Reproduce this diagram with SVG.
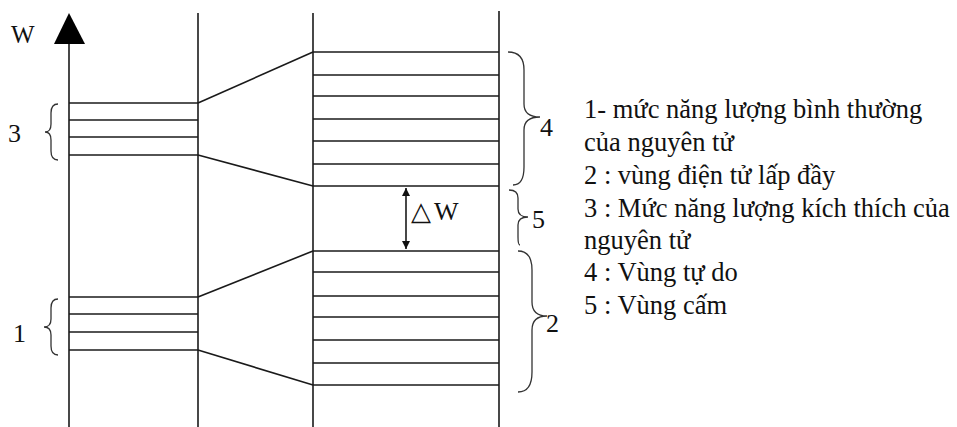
<svg xmlns="http://www.w3.org/2000/svg" width="957" height="427" viewBox="0 0 957 427">
<style>
.ln{stroke:#1a1a1a;stroke-width:1.6;fill:none}
.br{stroke:#333;stroke-width:1.3;fill:none}
.t{font-family:"Liberation Serif","Times New Roman",serif;font-size:26px;fill:#111}
.lg{font-family:"Liberation Serif","Times New Roman",serif;font-size:26.5px;fill:#111}
</style>
<defs>
<marker id="ah" viewBox="0 0 10 10" refX="10" refY="5" markerWidth="8" markerHeight="8" markerUnits="userSpaceOnUse" orient="auto-start-reverse">
<path d="M0,0 L10,5 L0,10 Z" fill="#111"/>
</marker>
</defs>
<rect width="957" height="427" fill="#fff"/>
<g id="axis">
<line class="ln" x1="69" y1="40" x2="69" y2="427"/>
<polygon points="69,13 54,44 85,44" fill="#000"/>
<text class="t" x="11" y="43" style="font-size:25px">W</text>
</g>
<g id="atom-column">
<line class="ln" x1="198" y1="13" x2="198" y2="427"/>
</g>
<g id="level3">
<line class="ln" x1="69" y1="103" x2="198" y2="103"/>
<line class="ln" x1="69" y1="120" x2="198" y2="120"/>
<line class="ln" x1="69" y1="137" x2="198" y2="137"/>
<line class="ln" x1="69" y1="155" x2="198" y2="155"/>
<path class="br" d="M58,104 Q51,104 51,113 L51,124 Q51,132 45,132 Q51,132 51,140 L51,151 Q51,160 58,160"/>
<text class="t" x="8" y="142">3</text>
</g>
<g id="level1">
<line class="ln" x1="69" y1="297" x2="198" y2="297"/>
<line class="ln" x1="69" y1="314" x2="198" y2="314"/>
<line class="ln" x1="69" y1="332" x2="198" y2="332"/>
<line class="ln" x1="69" y1="350" x2="198" y2="350"/>
<path class="br" d="M58,299 Q51,299 51,308 L51,319 Q51,327 44,327 Q51,327 51,335 L51,346 Q51,355 58,355"/>
<text class="t" x="13" y="342">1</text>
</g>
<g id="crystal-column">
<line class="ln" x1="313" y1="13" x2="313" y2="427"/>
<line class="ln" x1="499" y1="11" x2="499" y2="427"/>
</g>
<g id="band4">
<line class="ln" x1="313" y1="52" x2="499" y2="52"/>
<line class="ln" x1="313" y1="75" x2="499" y2="75"/>
<line class="ln" x1="313" y1="96" x2="499" y2="96"/>
<line class="ln" x1="313" y1="119" x2="499" y2="119"/>
<line class="ln" x1="313" y1="141" x2="499" y2="141"/>
<line class="ln" x1="313" y1="164" x2="499" y2="164"/>
<line class="ln" x1="313" y1="186" x2="499" y2="186"/>
<path class="br" d="M508,52 Q524,52 524,70 L524,104 Q524,117 540,117 Q524,117 524,130 L524,167 Q524,185 513,185"/>
<text class="t" x="540" y="136">4</text>
</g>
<g id="band5">
<path class="br" d="M509,190 Q518,190 518,198 L518,209 Q518,217 528,217 Q518,217 518,225 L518,237 Q518,245 520,245"/>
<text class="t" x="532" y="228">5</text>
</g>
<g id="band2">
<line class="ln" x1="313" y1="251" x2="499" y2="251"/>
<line class="ln" x1="313" y1="272" x2="499" y2="272"/>
<line class="ln" x1="313" y1="296" x2="499" y2="296"/>
<line class="ln" x1="313" y1="317" x2="499" y2="317"/>
<line class="ln" x1="313" y1="340" x2="499" y2="340"/>
<line class="ln" x1="313" y1="363" x2="499" y2="363"/>
<line class="ln" x1="313" y1="385" x2="499" y2="385"/>
<path class="br" d="M518,251 Q532,251 532,270 L532,302 Q532,316 547,316 Q532,316 532,330 L532,372 Q532,392 518,392"/>
<text class="t" x="546" y="332">2</text>
</g>
<g id="connectors">
<line class="ln" x1="198" y1="103" x2="313" y2="52"/>
<line class="ln" x1="198" y1="155" x2="313" y2="186"/>
<line class="ln" x1="198" y1="297" x2="313" y2="251"/>
<line class="ln" x1="198" y1="350" x2="313" y2="385"/>
<line class="ln" x1="406" y1="188" x2="406" y2="249" marker-start="url(#ah)" marker-end="url(#ah)"/>
<text class="t" x="411" y="220">△<tspan x="434">W</tspan></text>
</g>
<g id="legend">
<text class="lg" x="584" y="118">1- mức năng lượng bình thường</text>
<text class="lg" x="584" y="151">của nguyên tử</text>
<text class="lg" x="584" y="184">2 : vùng điện tử lấp đầy</text>
<text class="lg" x="584" y="217">3 : Mức năng lượng kích thích của</text>
<text class="lg" x="584" y="249">nguyên tử</text>
<text class="lg" x="584" y="281">4 : Vùng tự do</text>
<text class="lg" x="584" y="314">5 : Vùng cấm</text>
</g>
</svg>
